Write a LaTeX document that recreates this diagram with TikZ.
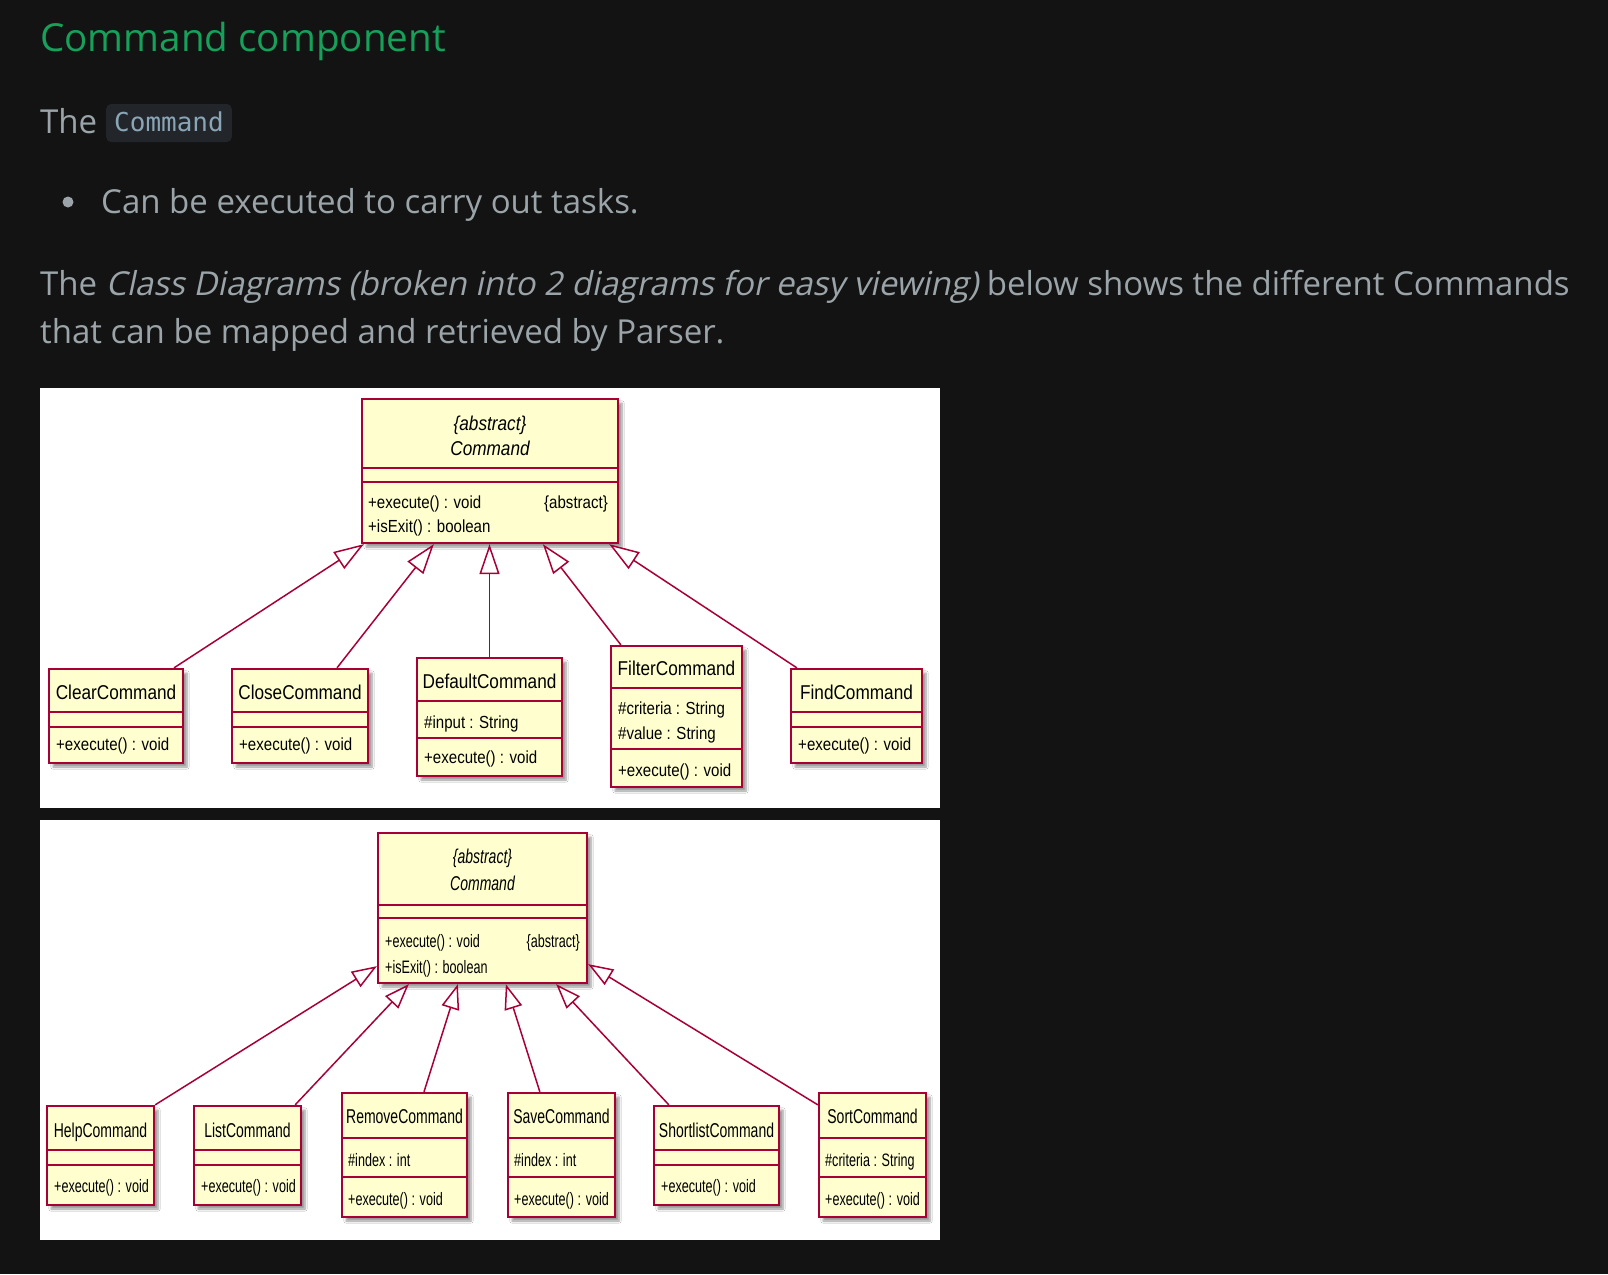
\documentclass[tikz,border=0pt]{standalone}
\usepackage{fontspec}
\setmainfont{Open Sans}
\newfontfamily\slantfont[FakeSlant=0.21]{Open Sans}
\newfontfamily\umlA[FakeStretch=0.86]{Liberation Sans}
\newfontfamily\umlB[FakeStretch=0.70]{Liberation Sans}
\newfontfamily\codefont{DejaVu Sans Mono}
\usetikzlibrary{arrows.meta,fit,shadows.blur}
\definecolor{bgc}{HTML}{131313}
\definecolor{headc}{HTML}{16A05A}
\definecolor{bodyc}{HTML}{9BA5A9}
\definecolor{codebg}{HTML}{22262B}
\definecolor{codec}{HTML}{8AA5B5}
\definecolor{umlred}{HTML}{A80036}
\definecolor{umlfill}{HTML}{FEFECE}
\tikzset{
  heading/.style={inner sep=0, anchor=base west, text=headc, font=\fontsize{38.6}{46}\selectfont},
  body/.style={inner sep=0, anchor=base west, text=bodyc, font=\fontsize{33}{48}\selectfont},
  codebox/.style={anchor=base west, fill=codebg, rounded corners=5pt, text=codec,
    font=\codefont\fontsize{26}{30}\selectfont, inner xsep=8pt, inner ysep=8pt,
    text height=19pt, text depth=3pt},
  panel/.style={fill=white, draw=none},
  cls/.style={draw=umlred, fill=umlfill, line width=2.3pt, inner sep=0pt,
    blur shadow={shadow xshift=4pt, shadow yshift=-4pt, shadow blur steps=6, shadow opacity=40}},
  csep/.style={draw=umlred, line width=2.3pt},
  nmA/.style={inner sep=0, anchor=base, text=black, font=\umlA\fontsize{20}{24}\selectfont},
  hdA/.style={inner sep=0, anchor=base, text=black, font=\umlA\itshape\fontsize{20}{24}\selectfont},
  mbA/.style={inner sep=0, anchor=base west, text=black, font=\umlA\fontsize{17.5}{21}\selectfont},
  nmB/.style={inner sep=0, anchor=base, text=black, font=\umlB\fontsize{20}{24}\selectfont},
  hdB/.style={inner sep=0, anchor=base, text=black, font=\umlB\itshape\fontsize{20}{24}\selectfont},
  mbB/.style={inner sep=0, anchor=base west, text=black, font=\umlB\fontsize{18}{21}\selectfont},
  genA/.style={draw=umlred, line width=1.5pt, -{Triangle[fill=white, length=30pt, width=20pt]}},
  genB/.style={draw=umlred, line width=1.5pt, -{Triangle[fill=white, length=25pt, width=18pt]}},
}
% id, left, top, right, bottom, sep1, sep2
\newcommand\ucls[7]{%
  \node[cls, fit={(#2,#3) (#4,#5)}] (#1) {};
  \draw[csep] (#2,#6) -- (#4,#6);
  \draw[csep] (#2,#7) -- (#4,#7);
}
\begin{document}
\begin{tikzpicture}[x=1pt, y=-1pt]
\fill[bgc] (0,0) rectangle (1608,1274);
\useasboundingbox (0,0) rectangle (1608,1274);

% ---------- page text ----------
\node[heading] (title) at (40,51) {Command component};
\node[body] (the1) at (40,133) {The};
\node[codebox] (code) at (106,131) {Command};
\node[circle, fill=bodyc, inner sep=0, minimum size=11pt] (dot) at (68,202) {};
\node[body] (bullet) at (101,213) {Can be executed to carry out tasks.};
\node[body] (para1) at (40,295) {The {\slantfont Class Diagrams (broken into 2 diagrams for easy viewing)} below shows the different Commands};
\node[body] (para2) at (40,343) {that can be mapped and retrieved by Parser.};

% ---------- diagram 1 ----------
\fill[panel] (40,388) rectangle (940,808);
\ucls{cmd}{362}{399}{618}{543}{468}{482}
\node[hdA] (cmd-s) at (490,430) {\{abstract\}};
\node[hdA] (cmd-n) at (490,455) {Command};
\node[mbA] (cmd-m1) at (368,508) {+execute() : void};
\node[mbA] (cmd-m2) at (368,532) {+isExit() : boolean};
\node[mbA, anchor=base east] (cmd-a) at (608,508) {\{abstract\}};

\ucls{clear}{49}{669}{183}{763}{712}{727}
\node[nmA] (clear-n) at (116,699) {ClearCommand};
\node[mbA] (clear-m) at (56,750) {+execute() : void};

\ucls{close}{232}{669}{368}{763}{712}{727}
\node[nmA] (close-n) at (300,699) {CloseCommand};
\node[mbA] (close-m) at (239,750) {+execute() : void};

\ucls{default}{417}{658}{562}{776}{701}{738}
\node[nmA] (default-n) at (489.5,688) {DefaultCommand};
\node[mbA] (default-a) at (424,728) {\#input : String};
\node[mbA] (default-m) at (424,763) {+execute() : void};

\ucls{filter}{611}{646}{742}{787}{688}{749}
\node[nmA] (filter-n) at (676.5,675) {FilterCommand};
\node[mbA] (filter-a1) at (618,714) {\#criteria : String};
\node[mbA] (filter-a2) at (618,739) {\#value : String};
\node[mbA] (filter-m) at (618,776) {+execute() : void};

\ucls{find}{791}{669}{922}{763}{712}{727}
\node[nmA] (find-n) at (856.5,699) {FindCommand};
\node[mbA] (find-m) at (798,750) {+execute() : void};

\draw[genA] ([xshift=58pt]clear.north) -- ([xshift=3pt]cmd.south west);
\draw[genA] ([xshift=37pt]close.north) -- ([xshift=73pt]cmd.south west);
\draw[genA] (default.north) -- (default.north |- cmd.south);
\draw[genA] ([xshift=11pt]filter.north west) -- ([xshift=182pt]cmd.south west);
\draw[genA] ([xshift=7pt]find.north west) -- ([xshift=-10pt]cmd.south east);

% ---------- diagram 2 ----------
\fill[panel] (40,820) rectangle (940,1240);
\ucls{cmdb}{378}{833}{587}{983}{905}{918}
\node[hdB] (cmdb-s) at (482.5,863) {\{abstract\}};
\node[hdB] (cmdb-n) at (482.5,890) {Command};
\node[mbB] (cmdb-m1) at (385,947) {+execute() : void};
\node[mbB] (cmdb-m2) at (385,973) {+isExit() : boolean};
\node[mbB, anchor=base east] (cmdb-a) at (580,947) {\{abstract\}};

\ucls{help}{47}{1106}{154}{1205}{1150}{1165}
\node[nmB] (help-n) at (100.5,1137) {HelpCommand};
\node[mbB] (help-m) at (54,1192) {+execute() : void};

\ucls{list}{194}{1106}{301}{1205}{1150}{1165}
\node[nmB] (list-n) at (247.5,1137) {ListCommand};
\node[mbB] (list-m) at (201,1192) {+execute() : void};

\ucls{remove}{342}{1093}{467}{1217}{1138}{1177}
\node[nmB] (remove-n) at (404.5,1123) {RemoveCommand};
\node[mbB] (remove-a) at (348,1166) {\#index : int};
\node[mbB] (remove-m) at (348,1205) {+execute() : void};

\ucls{save}{508}{1093}{615}{1217}{1138}{1177}
\node[nmB] (save-n) at (561.5,1123) {SaveCommand};
\node[mbB] (save-a) at (514,1166) {\#index : int};
\node[mbB] (save-m) at (514,1205) {+execute() : void};

\ucls{shortlist}{654}{1106}{779}{1205}{1150}{1165}
\node[nmB] (shortlist-n) at (716.5,1137) {ShortlistCommand};
\node[mbB] (shortlist-m) at (661,1192) {+execute() : void};

\ucls{sort}{819}{1093}{926}{1217}{1138}{1177}
\node[nmB] (sort-n) at (872.5,1123) {SortCommand};
\node[mbB] (sort-a) at (825,1166) {\#criteria : String};
\node[mbB] (sort-m) at (825,1205) {+execute() : void};

\draw[genB] (help.north east) -- ([yshift=18pt]cmdb.south west);
\draw[genB] ([xshift=-7pt]list.north east) -- ([xshift=32pt]cmdb.south west);
\draw[genB] ([xshift=19.5pt]remove.north) -- ([xshift=81pt]cmdb.south west);
\draw[genB] ([xshift=33pt]save.north west) -- ([xshift=129pt]cmdb.south west);
\draw[genB] ([xshift=16pt]shortlist.north west) -- ([xshift=-32pt]cmdb.south east);
\draw[genB] ([yshift=-13pt]sort.north west) -- ([yshift=20pt]cmdb.south east);
\end{tikzpicture}
\end{document}
